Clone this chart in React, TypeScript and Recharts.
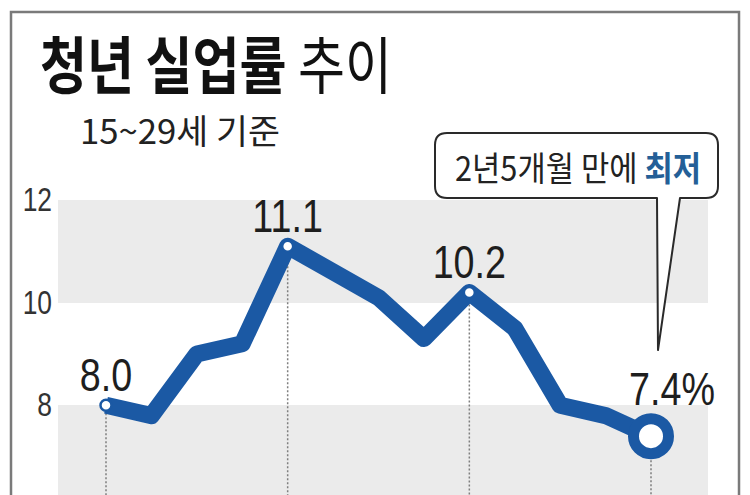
import {
  CartesianGrid,
  LabelList,
  Line,
  LineChart,
  ReferenceLine,
  XAxis,
  YAxis,
} from "recharts";

const BLUE = "#1b59a4";
const BAND = "#ebebeb";
const INK = "#1e1e1e";
const SANS = '"Liberation Sans", Arial, sans-serif';
const KR = '"Noto Sans CJK KR", "Noto Sans", sans-serif';
const SQUEEZE = 0.82; // the print uses a condensed face

// 13 monthly readings, youth (15~29) unemployment rate in %
const PERIODS = ["1", "2", "3", "4", "5", "6", "7", "8", "9", "10", "11", "12", "13"];
const RATES = [8.0, 7.8, 9.0, 9.2, 11.1, 10.6, 10.1, 9.3, 10.2, 9.5, 8.0, 7.8, 7.4];
const MARKED = [0, 4, 8, 12]; // points that get a label + dotted drop line
const Y_TICKS = [8, 10, 12];

const data = PERIODS.map((p, i) => ({ p, rate: RATES[i] }));
const LAST = RATES.length - 1;

function MarkerDot(props: any) {
  const { cx, cy, index } = props;
  if (!MARKED.includes(index)) return <g key={`d${index}`} />;
  const last = index === LAST;
  return (
    <circle
      key={`d${index}`}
      cx={cx}
      cy={cy}
      r={last ? 17.5 : 5.5}
      fill="#fff"
      stroke={BLUE}
      strokeWidth={last ? 11 : 2.5}
    />
  );
}

function PointLabel(props: any) {
  const { x, y, index, value } = props;
  if (!MARKED.includes(index)) return null;
  const last = index === LAST;
  const tx = last ? x - 22 : x;
  const ty = last ? y - 31 : y - 14;
  return (
    <text
      transform={`translate(${tx},${ty}) scale(${SQUEEZE},1)`}
      textAnchor={last ? "start" : "middle"}
      style={{ fontFamily: SANS, fontSize: 46, fill: INK }}
    >
      {Number(value).toFixed(1)}
      {last ? "%" : ""}
    </text>
  );
}

function YTick(props: any) {
  const { y, payload } = props;
  return (
    <g transform={`translate(52,${y + 11}) scale(0.8,1)`}>
      <text
        x={0}
        y={0}
        textAnchor="end"
        fontSize={33}
        fontFamily={SANS}
        fill="#333"
        style={{ fontSize: 33, fontFamily: SANS }}
      >
        {payload.value}
      </text>
    </g>
  );
}

export default function App() {
  return (
    <div
      style={{
        position: "absolute",
        left: 0,
        top: 0,
        width: 750,
        height: 495,
        overflow: "hidden",
        background: "#fff",
      }}
    >
      <LineChart
        width={750}
        height={510}
        data={data}
        margin={{ top: 200, right: 42, bottom: 2, left: 0 }}
      >
        <CartesianGrid
          vertical={false}
          stroke="transparent"
          horizontalFill={[BAND, "#ffffff"]}
          fillOpacity={1}
        />
        <XAxis dataKey="p" hide padding={{ left: 48, right: 57 }} />
        <YAxis
          domain={[6, 12]}
          ticks={Y_TICKS}
          width={58}
          axisLine={false}
          tickLine={false}
          tick={(p: any) => <YTick {...p} />}
          allowDataOverflow
        />
        {MARKED.map((i) => (
          <ReferenceLine
            key={i}
            segment={[
              { x: PERIODS[i], y: RATES[i] },
              { x: PERIODS[i], y: 6 },
            ]}
            stroke="#7f7f7f"
            strokeWidth={1.5}
            strokeDasharray="2 2"
          />
        ))}
        <Line
          type="linear"
          dataKey="rate"
          stroke={BLUE}
          strokeWidth={17}
          strokeLinejoin="round"
          dot={MarkerDot}
          activeDot={false}
          isAnimationActive={false}
        >
          <LabelList dataKey="rate" content={PointLabel} />
        </Line>
      </LineChart>

      <svg
        width={750}
        height={495}
        style={{ position: "absolute", left: 0, top: 0, pointerEvents: "none" }}
      >
        {/* outer frame */}
        <rect x={11} y={12} width={728} height={600} fill="none" stroke="#7a7a7a" strokeWidth={2.5} />

        {/* title */}
        <text
          x={40}
          y={89}
          textLength={352}
          lengthAdjust="spacingAndGlyphs"
          style={{ fontFamily: KR, fontSize: 62, fill: "#111" }}
        >
          <tspan fontWeight={700}>청년 실업률</tspan>
          <tspan fontWeight={400}> 추이</tspan>
        </text>
        <text
          x={80}
          y={144}
          textLength={200}
          lengthAdjust="spacingAndGlyphs"
          style={{ fontFamily: KR, fontSize: 34, fill: "#222" }}
        >
          15~29세 기준
        </text>

        {/* callout */}
        <path
          d="M447,133 H706 Q718,133 718,145 V186 Q718,198 706,198 H680 L658,350 L657,198 H447 Q435,198 435,186 V145 Q435,133 447,133 Z"
          fill="#fff"
          stroke="#2a2a2a"
          strokeWidth={2}
          strokeLinejoin="round"
        />
        <text
          x={455}
          y={181}
          textLength={246}
          lengthAdjust="spacingAndGlyphs"
          style={{ fontFamily: KR, fontSize: 34, fill: "#222" }}
        >
          <tspan>2년5개월 만에 </tspan>
          <tspan fontWeight={700} fill="#245f97">최저</tspan>
        </text>
      </svg>
    </div>
  );
}
